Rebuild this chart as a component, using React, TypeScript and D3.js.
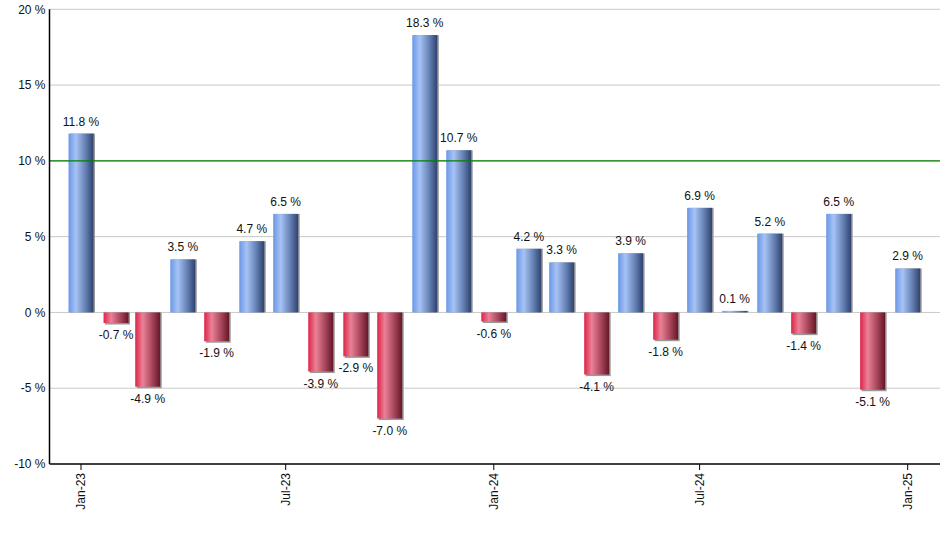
import React from "react";
import * as d3 from "d3";

const months: string[] = [
  "2023-01", "2023-02", "2023-03", "2023-04", "2023-05", "2023-06", "2023-07", "2023-08", "2023-09",
  "2023-10", "2023-11", "2023-12", "2024-01", "2024-02", "2024-03", "2024-04", "2024-05", "2024-06",
  "2024-07", "2024-08", "2024-09", "2024-10", "2024-11", "2024-12", "2025-01",
];
const values: number[] = [
  11.8, -0.7, -4.9, 3.5, -1.9, 4.7, 6.5, -3.9, -2.9, -7.0, 18.3, 10.7, -0.6,
  4.2, 3.3, -4.1, 3.9, -1.8, 6.9, 0.1, 5.2, -1.4, 6.5, -5.1, 2.9,
];
const yTicks: number[] = [-10, -5, 0, 5, 10, 15, 20];
const xTickLabels: string[] = ["2023-01", "2023-07", "2024-01", "2024-07", "2025-01"];
const referenceLine = 10;

const W = 940;
const H = 550;
const left = 49.5;
const right = 940;
const font = "Arial, 'Liberation Sans', sans-serif";

export default function App() {
  const parse = d3.timeParse("%Y-%m");
  const fmt = d3.timeFormat("%b-%y");
  const fmtVal = d3.formatLocale({ decimal: ".", thousands: ",", grouping: [3], currency: ["", ""], minus: "-" }).format(".1f");
  const dates = months.map((m) => parse(m) as Date);
  const x = d3
    .scaleTime()
    .domain([parse("2023-01") as Date, parse("2025-01") as Date])
    .range([81, 907.7]);
  const y = d3.scaleLinear().domain([-10, 20]).range([464, 9.3]);
  const bw = 25;
  const y0 = y(0);

  return (
    <svg width={W} height={H} style={{ position: "absolute", left: 0, top: 0, background: "#fff" }}>
      <defs>
        <linearGradient id="gBlue" x1="0" x2="1" y1="0" y2="0">
          <stop offset="0" stopColor="#6b97e6" />
          <stop offset="0.3" stopColor="#a7c3f5" />
          <stop offset="0.65" stopColor="#6a86b8" />
          <stop offset="1" stopColor="#2e4270" />
        </linearGradient>
        <linearGradient id="gRed" x1="0" x2="1" y1="0" y2="0">
          <stop offset="0" stopColor="#dd2347" />
          <stop offset="0.3" stopColor="#ea8197" />
          <stop offset="0.65" stopColor="#ad4a5f" />
          <stop offset="1" stopColor="#651527" />
        </linearGradient>
      </defs>
      {yTicks.map((t) => (
        <g key={t}>
          {t !== -10 && (
            <line x1={left} x2={right} y1={y(t)} y2={y(t)} stroke="#c8c8c8" strokeWidth={1} />
          )}
          <text
            x={left - 4}
            y={y(t)}
            dy="0.35em"
            textAnchor="end"
            fontFamily={font}
            fontSize={12}
            fill="#111"
          >
            {t} %
          </text>
        </g>
      ))}
      {values.map((v, i) => {
        const cx = x(dates[i]);
        const top = Math.min(y(v), y0);
        const h = Math.abs(y(v) - y0);
        return (
          <g key={i}>
            <rect x={cx - bw / 2 + 1.5} y={top} width={bw} height={h + (v < 0 ? 1.5 : 0)} fill="#9a9a9a" />
            <rect
              x={cx - bw / 2}
              y={top}
              width={bw}
              height={Math.max(h, 1)}
              fill={v >= 0 ? "url(#gBlue)" : "url(#gRed)"}
            />
            <text
              x={cx}
              y={v >= 0 ? y(v) - 8 : y(v) + 16}
              textAnchor="middle"
              fontFamily={font}
              fontSize={12}
              fill="#111"
            >
              {fmtVal(v)} %
            </text>
          </g>
        );
      })}
      <line
        x1={left}
        x2={right}
        y1={y(referenceLine)}
        y2={y(referenceLine)}
        stroke="#008000"
        strokeWidth={1.2}
      />
      <line x1={left} x2={left} y1={y(20)} y2={y(-10)} stroke="#000" strokeWidth={1.5} />
      <line x1={left} x2={right} y1={y(-10)} y2={y(-10)} stroke="#000" strokeWidth={1.5} />
      {xTickLabels.map((m) => {
        const d = parse(m) as Date;
        const tx = x(d);
        return (
          <g key={m}>
            <line x1={tx} x2={tx} y1={464} y2={470} stroke="#000" strokeWidth={1} />
            <text
              transform={`translate(${tx},473) rotate(-90)`}
              textAnchor="end"
              dy="0.35em"
              fontFamily={font}
              fontSize={12}
              fill="#111"
            >
              {fmt(d)}
            </text>
          </g>
        );
      })}
    </svg>
  );
}
